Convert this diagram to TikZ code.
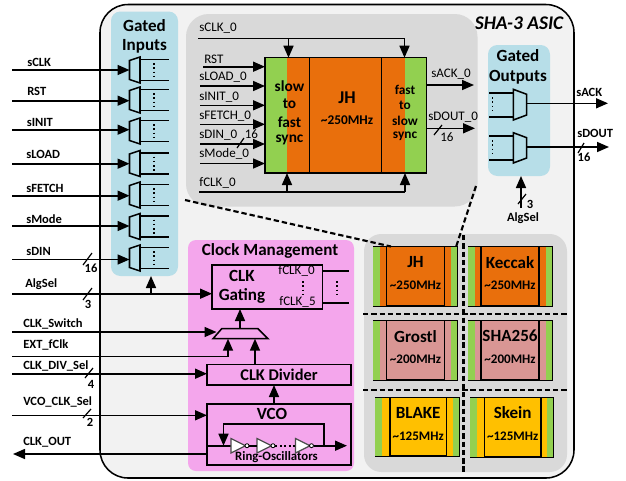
\documentclass[tikz,border=0pt]{standalone}
\usepackage{fontspec}
\setmainfont{Carlito}
\usetikzlibrary{arrows.meta}
\definecolor{asicbg}{HTML}{F2F2F2}
\definecolor{greyp}{HTML}{D9D9D9}
\definecolor{bluep}{HTML}{B7DEE8}
\definecolor{pinkp}{HTML}{F4A6EC}
\definecolor{orangeb}{HTML}{E96F0C}
\definecolor{greenb}{HTML}{92D050}
\definecolor{roseb}{HTML}{D99694}
\definecolor{yellowb}{HTML}{FFC000}
\tikzset{
  wire/.style={line width=1.2pt,black},
  arr/.style={wire,-{Triangle[length=9pt,width=7.5pt]}},
  tick/.style={line width=0.9pt,black},
  muxs/.style={line width=1.15pt,draw=black},
  blk/.style={draw=black,line width=1.1pt},
  panel/.style={fill=#1,draw=none},
  ext/.style={font=\bfseries\fontsize{9.4}{10}\selectfont,anchor=west,inner sep=0pt},
  sig/.style={font=\fontsize{9.8}{10}\selectfont,anchor=west,inner sep=0pt},
  num/.style={font=\bfseries\fontsize{9.4}{10}\selectfont,inner sep=0pt},
  ttl/.style={font=\bfseries\fontsize{12.8}{13}\selectfont,inner sep=0pt},
  sub/.style={font=\bfseries\fontsize{9.8}{10}\selectfont,inner sep=0pt},
  vdots/.style={dotted,line width=1.2pt,black},
  bigdash/.style={line width=1.6pt,dash pattern=on 4pt off 2.2pt,black},
  inv/.style={draw=black!70,fill=white,line width=0.9pt},
  bub/.style={circle,draw=black,fill=white,line width=0.6pt,inner sep=0pt,minimum size=3pt},
}
% #1 name, #2-#5 x1 y1 x2 y2 in reference pixels, #6 style, #7 text
\newcommand\pbox[7]{%
  \pgfmathsetmacro\pbx{(#2+#4)/2}\pgfmathsetmacro\pby{(#3+#5)/2}%
  \pgfmathsetmacro\pbw{abs(#4-#2)*0.75}\pgfmathsetmacro\pbh{abs(#5-#3)*0.75}%
  \node[#6,minimum width=\pbw pt,minimum height=\pbh pt,inner sep=0pt,outer sep=0pt] (#1) at (\pbx,\pby) {#7};}
% input mux: #1 name, #2 centre y
\newcommand\inmux[2]{%
  \coordinate (#1) at (129.5,#2);
  \coordinate (#1a) at (169,#2-10.5);
  \coordinate (#1b) at (169,#2+10.5);
  \draw[muxs,fill=bluep] (129.5,#2-9.5) -- (140,#2-13) -- (140,#2+13) -- (129.5,#2+9.5) -- cycle;
  \draw[wire] (140,#2-10.5) -- (#1a);
  \draw[wire] (140,#2+10.5) -- (#1b);
  \draw[vdots] (154,#2-7) -- (154,#2+8);
}
% card: #1 name, #2-#5 outer box, #6 #7 inner x, #8 colour, #9 title
\newcommand\card[9]{%
  \pbox{#1o}{#2}{#3}{#4}{#5}{fill=#8}{}
  \pbox{#1g}{#2}{#3}{#2+7}{#5}{fill=greenb}{}
  \pbox{#1h}{#4-6.5}{#3}{#4}{#5}{fill=greenb}{}
  \draw[line width=0.7pt] (#1o.south west) -- (#1o.south east) -- (#1o.north east) -- (#1o.north west);
  \pbox{#1}{#6}{#3}{#7}{#5}{blk,fill=#8}{}
  \node[ttl] (#1t) at ([yshift=-15.5*0.75pt]#1.north) {#9};
}
\begin{document}
\begin{tikzpicture}[x=0.75pt,y=-0.75pt]
\useasboundingbox (0,0) rectangle (626,480);
\fill[white] (0,0) rectangle (626,480);
% ASIC
\pbox{asic}{100}{4.5}{574}{478}{draw=black,line width=1.15pt,fill=asicbg,rounded corners=21pt}{}
\node[font=\bfseries\itshape\fontsize{14.5}{15}\selectfont,inner sep=0pt] (asict) at (519,23) {SHA-3 ASIC};
% panels
\pbox{pin}{111}{11.5}{178}{276}{panel=bluep,rounded corners=7pt}{}
\pbox{pout}{488}{45}{550}{176}{panel=bluep,rounded corners=7pt}{}
\pbox{pjh}{186}{14}{477.5}{206.5}{panel=greyp,rounded corners=17pt}{}
\pbox{pclk}{188}{240}{354}{471}{panel=pinkp,rounded corners=6pt}{}
\pbox{pgrid}{364}{234}{567}{472}{panel=greyp,rounded corners=13pt}{}
\node[ttl] (tin1) at (144.5,26) {Gated};
\node[ttl] (tin2) at (144.5,46) {Inputs};
\node[ttl] (tout1) at (518,56) {Gated};
\node[ttl] (tout2) at (518,77) {Outputs};
\node[ttl] (tclk) at (270,251) {Clock Management};
% input muxes
\inmux{mA}{70}
\inmux{mB}{100}
\inmux{mC}{131}
\inmux{mD}{163.5}
\inmux{mE}{195}
\inmux{mF}{226.5}
\inmux{mG}{258}
\foreach \nm/\ty/\ly/\tx/\m in {sCLK/70/62/27/mA,RST/100.7/91/27/mB,sINIT/129.7/122/26.5/mC,sLOAD/163.7/154/26/mD,sFETCH/195.7/188/26/mE,sMode/226/219/26/mF,sDIN/259.5/251/26/mG}{
  \coordinate (s\nm) at (12,\ty);
  \node[ext] (l\nm) at (\tx,\ly) {\nm};
  \draw[arr] (s\nm) -- (\m |- s\nm);
}
\draw[tick] (83,265) -- (92,253);
\node[num] (n16a) at (91,268) {16};
% AlgSel + clock gating
\pbox{gate}{212}{265}{322.5}{309}{blk}{}
\node[ttl] (gt1) at (242,276) {CLK};
\node[ttl] (gt2) at (242,296) {Gating};
\node[sig] (f0) at (278,271) {fCLK\_0};
\node[sig] (f5) at (279,302) {fCLK\_5};
\draw[vdots] (303,281) -- (303,296);
\draw[vdots] (337,281) -- (337,297);
\coordinate (fo0) at (349,270.7);
\coordinate (fo5) at (349,303);
\draw[wire] (gate.east |- fo0) -- (fo0);
\draw[wire] (gate.east |- fo5) -- (fo5);
\coordinate (sAlg) at (12,293.7);
\node[ext] (lAlg) at (25,284) {AlgSel};
\draw[arr] (sAlg) -- (gate.west |- sAlg);
\draw[tick] (83,300) -- (92,288);
\node[num] (n3a) at (88,304) {3};
\coordinate (algj) at (151,293.7);
\draw[arr] (algj) -- (pin.south -| algj);
% clock mux
\draw[muxs] (221.7,328.7) -- (258,328.7) -- (268,338.7) -- (213,338.7) -- cycle;
\coordinate (cmt) at (240,328.7);
\coordinate (cml) at (216.5,332);
\coordinate (cma) at (228,338.7);
\coordinate (cmb) at (255,338.7);
\draw[arr] (cmt) -- (gate.south -| cmt);
\coordinate (sSw) at (12,332);
\node[ext] (lSw) at (23,324) {CLK\_Switch};
\draw[arr] (sSw) -- (cml);
\coordinate (sExt) at (12,356.3);
\coordinate (extj) at (229,356.3);
\node[ext] (lExt) at (23,345) {EXT\_fClk};
\draw[wire] (sExt) -- (extj);
\draw[arr] (extj -| cma) -- (cma);
% divider, VCO
\pbox{div}{207}{364.3}{351}{385}{blk,font=\bfseries\fontsize{12.3}{13}\selectfont}{CLK Divider}
\draw[arr] (div.north -| cmb) -- (cmb);
\coordinate (sDv) at (12,373.7);
\node[ext] (lDv) at (23,366) {CLK\_DIV\_Sel};
\draw[arr] (sDv) -- (div.west |- sDv);
\draw[tick] (85,378) -- (93,368);
\node[num] (n4) at (91,384) {4};
\pbox{vco}{207}{404}{351}{465}{blk}{}
\node[ttl] (tvco) at (272,414) {VCO};
\coordinate (dvx) at (274,404);
\draw[arr] (dvx) -- (div.south -| dvx);
\coordinate (sVc) at (12,415.3);
\node[ext] (lVc) at (23,402) {VCO\_CLK\_Sel};
\draw[arr] (sVc) -- (vco.west |- sVc);
\draw[tick] (83,418) -- (91,409);
\node[num] (n2) at (90,422) {2};
\coordinate (sOut) at (13,454);
\node[ext] (lOut) at (23,442) {CLK\_OUT};
\draw[arr] (vco.west |- sOut) -- (sOut);
% ring oscillator
\coordinate (rl) at (231,445.7);
\coordinate (rr) at (347,445.7);
\coordinate (rf) at (324,445.7);
\draw[wire] (vco.west |- rl) -- (rl);
\draw[arr] (rf) -- (rr);
\draw[arr] (rf) -- (324,423.7) -- (223.5,423.7) -- (223.5,445.7);
\draw[inv] (231,438.5) -- (245.5,445.7) -- (231,453) -- cycle;
\draw[inv] (257,438.5) -- (271.5,445.7) -- (257,453) -- cycle;
\draw[inv] (295.5,438.5) -- (310,445.7) -- (295.5,453) -- cycle;
\node[bub] (b1) at (247,445.7) {};
\node[bub] (b2) at (273,445.7) {};
\node[bub] (b3) at (311.5,445.7) {};
\draw[wire] (b1) -- (257,445.7);
\draw[wire] (b3) -- (rf);
\draw[line width=1.2pt,dash pattern=on 1.5pt off 1.8pt] (b2) -- (295,445.7);
\node[font=\bfseries\fontsize{9.6}{10}\selectfont,inner sep=0pt] (tring) at (276.5,457) {Ring-Oscillators};
% JH detail
\pbox{jgL}{265}{57.7}{287}{173}{fill=greenb}{}
\pbox{joL}{287}{57.7}{309.3}{173}{fill=orangeb}{}
\pbox{jcore}{309.3}{57.7}{382}{173}{blk,fill=orangeb}{}
\pbox{joR}{382}{57.7}{405}{173}{fill=orangeb}{}
\pbox{jgR}{405}{57.7}{426.7}{173}{fill=greenb}{}
\pbox{jall}{265}{57.7}{426.7}{173}{blk}{}
\node[ttl,font=\bfseries\fontsize{13.5}{14}\selectfont] (jn) at (347,98) {JH};
\node[sub] (jf) at (347,120) {\fontsize{10}{11}\selectfont\textasciitilde250MHz};
\foreach \t/\y/\i in {slow/86/a,to/104/b,fast/122/c,sync/140/d}
  \node[font=\bfseries\fontsize{11.5}{12}\selectfont,inner sep=0pt] (sf\i) at (289.5,\y) {\t};
\foreach \t/\y/\i in {fast/90/a,to/105.5/b,slow/121/c,sync/136/d}
  \node[font=\bfseries\fontsize{10}{11}\selectfont,inner sep=0pt] (fs\i) at (405,\y) {\t};
% JH signals
\coordinate (sc0) at (198,38.3);
\coordinate (sc1) at (288.5,38.3);
\coordinate (sc2) at (404.5,38.3);
\node[sig] (lsc) at (199,28) {sCLK\_0};
\draw[wire] (sc0) -- (sc2);
\draw[arr] (sc1) -- (jall.north -| sc1);
\draw[arr] (sc2) -- (jall.north -| sc2);
\coordinate (fc0) at (199,192);
\coordinate (fc1) at (287,192);
\coordinate (fc2) at (405,192);
\node[sig] (lfc) at (199,183) {fCLK\_0};
\draw[wire] (fc0) -- (fc2);
\draw[arr] (fc1) -- (jall.south -| fc1);
\draw[arr] (fc2) -- (jall.south -| fc2);
\foreach \nm/\lbl/\x/\ly/\sy in {a/RST/203/59/66.7,b/sLOAD\_0/200/77/86,c/sINIT\_0/200/97/105.3,d/sFETCH\_0/200/116/124.3,e/sDIN\_0/200/135/144,f/sMode\_0/200/154/163.5}{
  \coordinate (ji\nm) at (\x,\sy);
  \draw[arr] (ji\nm) -- (jall.west |- ji\nm);
  \pgfmathsetmacro\lx{\x==203?204:199}
  \node[sig] (jl\nm) at (\lx,\ly) {\lbl};
}
\draw[tick] (237,148) -- (244,138);
\node[sig] (n16b) at (244.5,134) {16};
\coordinate (ack) at (474,85);
\coordinate (dout) at (475,128.3);
\draw[arr] (jall.east |- ack) -- (ack);
\draw[arr] (jall.east |- dout) -- (dout);
\node[sig] (lack) at (431,74) {sACK\_0};
\node[sig] (ldout) at (428,117) {sDOUT\_0};
\draw[tick] (434,135) -- (442,125);
\node[sig] (n16c) at (440,137) {16};
% output muxes
\draw[muxs] (513.3,89.3) -- (526.7,94.3) -- (526.7,115) -- (513.3,120) -- cycle;
\draw[muxs] (513.3,132.7) -- (526.7,137.7) -- (526.7,158) -- (513.3,163) -- cycle;
\coordinate (om1) at (526.7,103.3);
\coordinate (om2) at (526.7,147);
\coordinate (oa1) at (489,93);
\coordinate (oa2) at (489,117);
\coordinate (ob1) at (489,136);
\coordinate (ob2) at (489,160);
\draw[wire] (oa1) -- (513.3,93);
\draw[wire] (oa2) -- (513.3,117);
\draw[wire] (ob1) -- (513.3,136);
\draw[wire] (ob2) -- (513.3,160);
\draw[vdots] (492.5,97) -- (492.5,112);
\draw[vdots] (492.5,140) -- (492.5,155);
\coordinate (sAck) at (608,103.3);
\coordinate (sDo) at (609,147);
\draw[arr] (om1) -- (sAck);
\draw[arr] (om2) -- (sDo);
\node[ext] (lsa) at (576,92) {sACK};
\node[ext] (lsd) at (577,133) {sDOUT};
\draw[tick] (578,153) -- (584,143);
\node[num] (n16d) at (584,157) {16};
\coordinate (asb) at (521,208);
\draw[arr] (asb) -- (pout.south -| asb);
\draw[tick] (518,204) -- (526,194);
\node[num] (n3b) at (530,204) {3};
\node[ext,anchor=center] (las) at (523,218) {AlgSel};
% cards
\card{cJH}{373.3}{246.7}{457.3}{306}{386.7}{444.3}{orangeb}{JH}
\card{cKE}{467.7}{246.7}{552}{306}{481}{539}{orangeb}{Keccak}
\card{cGR}{373.3}{320.7}{457.3}{380}{386.7}{444.3}{roseb}{Grostl}
\card{cSH}{467.7}{320.7}{552}{380}{481}{539}{roseb}{SHA256}
\card{cBL}{375}{397.3}{459}{456}{390}{446.3}{yellowb}{BLAKE}
\card{cSK}{470}{397.3}{553.7}{457}{484.3}{541}{yellowb}{Skein}
\foreach \c/\f in {cJH/250,cKE/250,cGR/200,cSH/200,cBL/125,cSK/125}
  \node[sub] (\c f) at ([yshift=-38.5*0.75pt]\c.north) {\textasciitilde\f MHz};
% dashed
\coordinate (da) at (185,200);
\coordinate (dc) at (391,246.5);
\coordinate (db) at (476,186);
\coordinate (dd) at (456,247);
\draw[bigdash] (da) -- (dc);
\draw[bigdash] (db) -- (dd);
\coordinate (va) at (463.5,235);
\coordinate (vb) at (463.5,472);
\draw[bigdash] (va) -- (vb);
\coordinate (ha) at (363,314.3);
\coordinate (hb) at (567,314.3);
\coordinate (ia) at (363,389.7);
\coordinate (ib) at (567,389.7);
\draw[bigdash] (ha) -- (hb);
\draw[bigdash] (ia) -- (ib);
\end{tikzpicture}
\end{document}
